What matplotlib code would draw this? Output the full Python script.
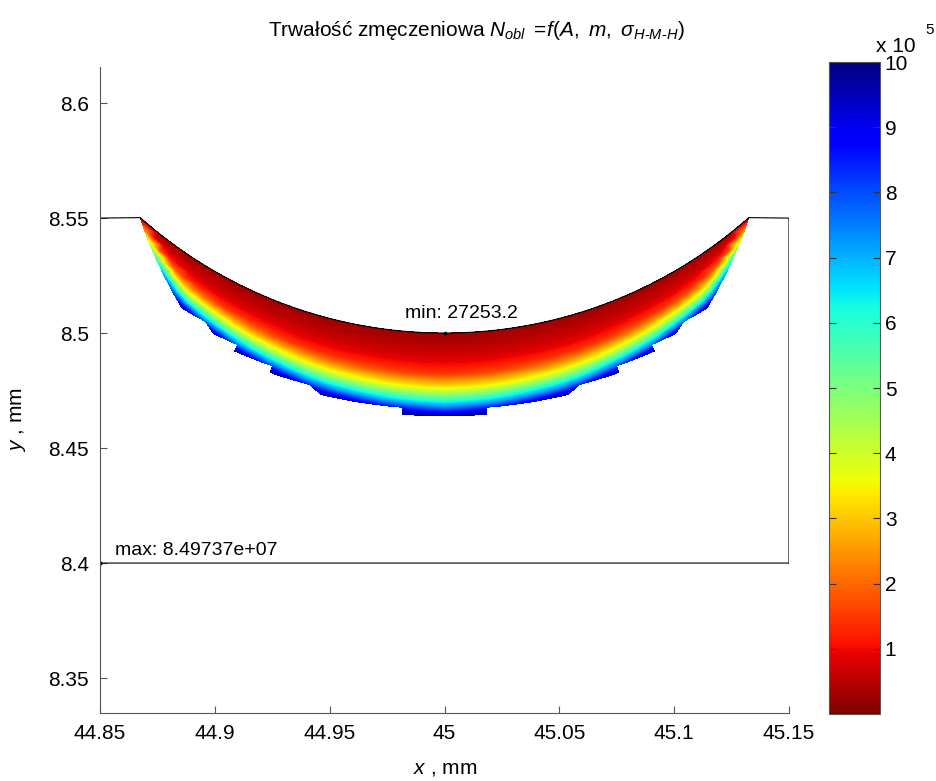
import numpy as np
import matplotlib
matplotlib.use('Agg')
import matplotlib.pyplot as plt
import matplotlib.tri as mtri
from matplotlib.cm import ScalarMappable
from matplotlib.colors import Normalize

plt.rcParams['font.family'] = ['Liberation Sans', 'DejaVu Sans']
plt.rcParams['mathtext.fontset'] = 'custom'
plt.rcParams['mathtext.rm'] = 'Liberation Sans'
plt.rcParams['mathtext.it'] = 'Liberation Sans:italic'
plt.rcParams['mathtext.bf'] = 'Liberation Sans:bold'

# notch geometry (mm)
notch_cx, notch_cy, notch_r = 45.0, 8.7, 0.2
notch_half_angle = 41.5
shoulder_y, base_y = 8.55, 8.4
x_left, x_right = 44.85, 45.15

depth_mm = [0.0, 0.008, 0.014, 0.018, 0.021, 0.025, 0.0296, 0.0326, 0.035, 0.037, 0.045, 0.06]
life_N = [27253.2, 6.0e4, 1.0e5, 1.5e5, 2.5e5, 3.8e5, 6.0e5, 7.5e5, 9.0e5, 1.0e6, 2.0e6, 5.0e6]

# depth of the 1e6 band edge vs angle from the notch axis
band_angle = [0.0, 5.6, 14.0, 23.0, 32.0, 38.0, 41.5]
band_depth = [0.037, 0.036, 0.0335, 0.028, 0.021, 0.010, 0.002]

n_min, n_max_label = 27253.2, 8.49737e+07
cbar_ticks = [1e5, 2e5, 3e5, 4e5, 5e5, 6e5, 7e5, 8e5, 9e5, 1e6]
cbar_labels = ['1', '2', '3', '4', '5', '6', '7', '8', '9', '10']

# structured mesh of nodes below the notch surface
ang = np.linspace(-notch_half_angle, notch_half_angle, 57)
dep = np.arange(0, 0.048, 0.003)
na, nd = len(ang), len(dep)
A, D = np.meshgrid(ang, dep)
scale = band_depth[0] / np.maximum(np.interp(np.abs(A), band_angle, band_depth), 1e-4)
vals = np.interp(D * scale, depth_mm, life_N)
rr = notch_r + D
X = notch_cx + rr * np.sin(np.radians(A))
Y = notch_cy - rr * np.cos(np.radians(A))

tris = []
for i in range(nd - 1):
    for j in range(na - 1):
        a = i * na + j
        b, c, d = a + 1, a + na, a + na + 1
        if (i + j) % 2 == 0:
            tris += [[a, b, d], [a, d, c]]
        else:
            tris += [[a, b, c], [b, d, c]]
tri = mtri.Triangulation(X.ravel(), Y.ravel(), np.array(tris))
v = vals.ravel()
tri.set_mask(v[tri.triangles].max(axis=1) > 1e6)

fig = plt.figure(figsize=(9.36, 7.81), dpi=100)
ax = fig.add_axes([100/936, 68/781, 689/936, 646/781])

ax.tricontourf(tri, v, levels=np.linspace(0, 1e6, 201), cmap='jet_r')

# outline
t = np.linspace(-notch_half_angle, notch_half_angle, 200)
arc_x = notch_cx + notch_r * np.sin(np.radians(t))
arc_y = notch_cy - notch_r * np.cos(np.radians(t))
ox = np.concatenate([[x_left], arc_x, [x_right, x_right, x_left]])
oy = np.concatenate([[shoulder_y], arc_y, [shoulder_y, base_y, base_y]])
ax.plot(ox, oy, color='black', lw=0.8)

ax.plot([notch_cx], [notch_cy - notch_r], 'k.', ms=3)
ax.plot([x_left], [base_y], 'k.', ms=4)
ax.text(44.9826, 8.5065, 'min: %.1f' % n_min, fontsize=14)
ax.text(44.8565, 8.4035, 'max: %g' % n_max_label, fontsize=14)

ax.set_xlim(x_left, x_right)
ax.set_ylim(8.3348, 8.6157)
ax.set_xticks([44.85, 44.9, 44.95, 45.0, 45.05, 45.1, 45.15])
ax.set_xticklabels(['44.85', '44.9', '44.95', '45', '45.05', '45.1', '45.15'])
ax.set_yticks([8.35, 8.4, 8.45, 8.5, 8.55, 8.6])
ax.set_yticklabels(['8.35', '8.4', '8.45', '8.5', '8.55', '8.6'])
ax.tick_params(direction='in', length=5, labelsize=15, color='#555555', pad=8)
for s in ['top', 'right']:
    ax.spines[s].set_visible(False)
for s in ['left', 'bottom']:
    ax.spines[s].set_color('#555555')

fig.text(445/936, 1 - 768/781, r'$x$ , mm', fontsize=15, ha='center', va='center')
fig.text(18/936, 1 - 420/781, r'$y$ , mm', fontsize=15, ha='center', va='center', rotation=90)
fig.text(476/936, 1 - 30/781,
         r'Trwałość zmęczeniowa $N_{obl}$ $=\!f(A,\ m,\ \sigma_{H\text{-}M\text{-}H})$',
         fontsize=15, ha='center', va='center')

cax = fig.add_axes([829/936, 67/781, 51/936, 652/781])
sm = ScalarMappable(norm=Normalize(0, 1e6), cmap='jet_r')
cb = fig.colorbar(sm, cax=cax, ticks=cbar_ticks)
cb.set_ticklabels(cbar_labels)
cax.tick_params(direction='in', length=5, labelsize=15, color='#333333', left=True, right=True)
cb.outline.set_edgecolor('#555555')
fig.text(876/936, 1 - 46/781, 'x 10', fontsize=15, ha='left', va='center')
fig.text(925/936, 1 - 30/781, '5', fontsize=11, ha='left', va='center')

fig.savefig('out.png', dpi=100)
